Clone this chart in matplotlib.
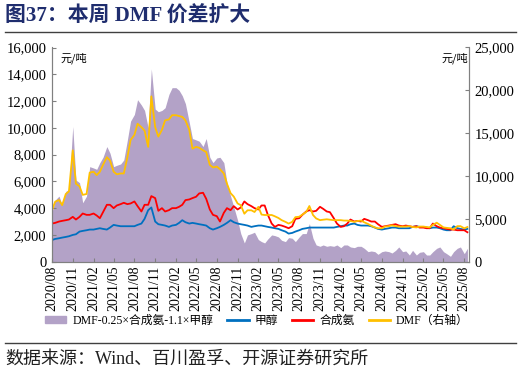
import numpy as np
import pandas as pd
import matplotlib
matplotlib.use('Agg')
import matplotlib.pyplot as plt
from matplotlib.ticker import FuncFormatter
from matplotlib.patches import Patch
from matplotlib.lines import Line2D

plt.rcParams['font.family'] = ['Liberation Serif', 'Noto Sans CJK SC', 'DejaVu Sans']

# half-month samples, 2020/08/01 .. 2025/08/15
dates = pd.date_range('2020-08-01', periods=122, freq='SMS')

# DMF price (right axis), yuan/t
dmf = [6000, 7000, 7200, 6600, 7900, 8200, 13000, 9100, 8800, 7800,
       7900, 10400, 10500, 10100, 10500, 11300, 12200, 11800, 10500, 10200,
       10300, 10300, 12200, 14200, 14800, 16100, 15700, 15300, 13400, 19300,
       15700, 14600, 15400, 16500, 16600, 17100, 17100, 17000, 16900, 16500,
       15400, 13200, 13400, 13300, 13000, 12800, 11300, 11000, 11100, 10800,
       10300, 9100, 8000, 7600, 6800, 6600, 5600, 6000, 6000, 5800,
       6400, 5500, 5450, 5450, 5450, 5300, 5100, 4850, 4650, 4450,
       4650, 5200, 5250, 5500, 5800, 6500, 5450, 5050, 4850, 4900,
       4950, 4900, 4850, 4850, 4850, 4800, 4800, 4750, 4650, 4750,
       4800, 4600, 4400, 4200, 4000, 3900, 3900, 4100, 4150, 4250,
       4150, 4100, 4100, 4100, 4150, 4050, 4000, 4100, 4100, 4050,
       4000, 4300, 4550, 4300, 4000, 3950, 3900, 3750, 4150, 4150,
       3900, 4050]

# synthetic ammonia price (left axis)
ammonia = [2850, 2900, 3000, 3050, 3100, 3150, 3350, 3150, 3350, 3600,
           3500, 3500, 3600, 3450, 3250, 3700, 4250, 4250, 4000, 4200,
           4300, 4400, 4300, 4350, 4500, 4150, 3750, 4250, 4250, 4900,
           4750, 3800, 4000, 3750, 3850, 4000, 4000, 4100, 4250, 4600,
           4650, 4750, 4850, 5100, 5150, 4700, 3900, 3500, 3400, 3000,
           3650, 4000, 3850, 4150, 3900, 4050, 4500, 4300, 4150, 4000,
           3900, 4200, 4200, 3500, 2850, 2600, 2750, 2700, 2600, 2500,
           2650, 3200, 3250, 3500, 3750, 3850, 3750, 3800, 4100, 3950,
           3750, 3700, 3250, 2850, 2600, 2650, 2850, 3150, 3000, 3050,
           3000, 3200, 3100, 3000, 3000, 2800, 2600, 2650, 2700, 2750,
           2800, 2700, 2650, 2700, 2650, 2600, 2650, 2550, 2550, 2500,
           2500, 2850, 2650, 2550, 2500, 2450, 2400, 2400, 2350, 2350,
           2350, 2200]

# methanol price (left axis)
methanol = [1620, 1700, 1750, 1800, 1850, 1900, 2000, 2050, 2250, 2300,
            2350, 2400, 2400, 2450, 2500, 2450, 2400, 2550, 2750, 2700,
            2650, 2650, 2650, 2650, 2650, 2750, 2850, 3200, 3850, 4050,
            3000, 2800, 2750, 2700, 2600, 2700, 2750, 2900, 3100, 2950,
            2850, 2900, 2850, 2800, 2750, 2700, 2500, 2400, 2500, 2600,
            2750, 2900, 3100, 2950, 2850, 2800, 2750, 2700, 2600, 2650,
            2700, 2700, 2650, 2600, 2550, 2500, 2450, 2350, 2250, 2100,
            2150, 2250, 2350, 2450, 2500, 2550, 2550, 2550, 2550, 2550,
            2550, 2550, 2550, 2600, 2650, 2700, 2700, 2800, 2850, 2750,
            2700, 2700, 2700, 2650, 2550, 2450, 2400, 2450, 2500, 2550,
            2550, 2500, 2500, 2500, 2500, 2600, 2650, 2600, 2600, 2550,
            2500, 2550, 2550, 2500, 2400, 2350, 2350, 2650, 2500, 2450,
            2400, 2450]

# DMF - 0.25*ammonia - 1.1*methanol (left axis)
spread = [3700, 4600, 4900, 4250, 5250, 5400, 10100, 6100, 5900, 4400,
          4900, 7100, 7000, 6900, 7400, 7800, 8600, 8100, 7100, 7200,
          7300, 7600, 9100, 10500, 11000, 12100, 11700, 11300, 10000, 14400,
          11400, 11200, 11300, 11500, 12500, 13000, 13000, 12800, 12400, 11800,
          10400, 9200, 9100, 9000, 8600, 9200, 7800, 7400, 7750, 7800,
          7400, 5900, 4900, 4100, 3100, 2100, 1400, 2000, 2100, 2200,
          1650, 1500, 1400, 1700, 2000, 1950, 1850, 1600, 1500, 1800,
          1750, 1500, 1850, 2100, 2100, 2850, 1750, 1250, 1150, 1250,
          1150, 1200, 1150, 1250, 1050, 1250, 1250, 1100, 1050, 1150,
          1150, 1000, 750, 800, 750, 550, 750, 800, 750, 650,
          850, 1100, 750, 800, 500, 850, 500, 700, 750, 500,
          500, 750, 1000, 1100, 750, 600, 400, 750, 1000, 1100,
          600, 1000]

c_spread = '#B3A2C7'
c_meth = '#0070C0'
c_amm = '#FF0000'
c_dmf = '#FFC000'
c_axis = '#808080'

fig = plt.figure(figsize=(5.21, 3.74), dpi=100)
ax = fig.add_axes([52 / 521, 1 - 261.7 / 374, (469 - 52) / 521, (261.7 - 47.5) / 374])
ax2 = ax.twinx()

ax.fill_between(dates, spread, 0, color=c_spread, linewidth=0)
ax.plot(dates, methanol, color=c_meth, lw=1.3)
ax.plot(dates, ammonia, color=c_amm, lw=1.3)
ax2.plot(dates, dmf, color=c_dmf, lw=1.3)

ax.set_ylim(0, 16000)
ax.set_yticks(np.arange(0, 16001, 2000))
ax2.set_ylim(0, 25000)
ax2.set_yticks(np.arange(0, 25001, 5000))
fmt = FuncFormatter(lambda v, p: f'{int(v):,}')
ax.yaxis.set_major_formatter(fmt)
ax2.yaxis.set_major_formatter(fmt)

ax.set_xlim(pd.Timestamp('2020-08-01'), pd.Timestamp('2025-08-22'))
ticks = pd.date_range('2020-08-01', '2025-08-01', freq='3MS')
ax.set_xticks(ticks)
ax.set_xticklabels([d.strftime('%Y/%m') for d in ticks], rotation=90)

for a in (ax, ax2):
    for s in a.spines.values():
        s.set_color(c_axis)
        s.set_linewidth(0.8)
    a.spines['top'].set_visible(False)
    a.tick_params(direction='in', length=3, color=c_axis, labelsize=10.5, pad=4)
ax.tick_params(axis='x', labelsize=10, pad=3)

ax.text(0.02, 0.975, '元/吨', transform=ax.transAxes, fontsize=8, va='top', ha='left',
        family=['Noto Sans CJK SC'])
ax.text(0.998, 0.975, '元/吨', transform=ax.transAxes, fontsize=8, va='top', ha='right',
        family=['Noto Sans CJK SC'])

handles = [Patch(color=c_spread), Line2D([], [], color=c_meth, lw=2),
           Line2D([], [], color=c_amm, lw=2), Line2D([], [], color=c_dmf, lw=2)]
labels = ['DMF-0.25×合成氨-1.1×甲醇', '甲醇', '合成氨', 'DMF（右轴）']
fig.legend(handles, labels, loc='center', bbox_to_anchor=(0.493, 1 - 321 / 374), ncol=4,
           frameon=False, fontsize=8.5, handlelength=1.8, handleheight=0.5,
           columnspacing=1.2, handletextpad=0.5, borderpad=0)

# title and source
fig.text(5 / 521, 1 - 17 / 374, '图37：本周 DMF 价差扩大', fontsize=15, fontweight='bold',
         color='#1F2D6E', va='center', ha='left')
fig.add_artist(Line2D([5 / 521, 516 / 521], [1 - 32 / 374] * 2, color='#404040', lw=1.0))
fig.add_artist(Line2D([5 / 521, 516 / 521], [1 - 343 / 374] * 2, color='#404040', lw=1.0))
fig.text(5 / 521, 1 - 359 / 374, '数据来源：Wind、百川盈孚、开源证券研究所', fontsize=13,
         color='#202020', va='center', ha='left')

fig.savefig('out.png', dpi=100)
